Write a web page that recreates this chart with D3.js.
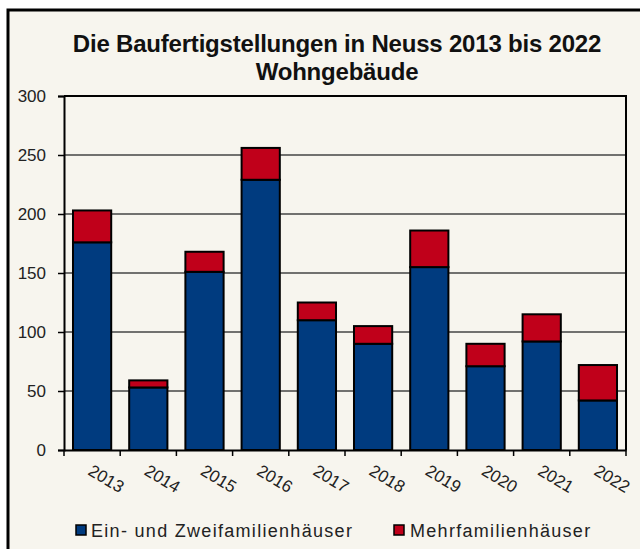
<!DOCTYPE html>
<html><head><meta charset="utf-8">
<script src="https://cdn.jsdelivr.net/npm/d3@7"></script>
<style>
html,body{margin:0;padding:0;background:#fff;}
svg{display:block;}
text{font-family:"Liberation Sans",Arial,sans-serif;}
</style></head>
<body>
<svg id="c" width="640" height="549"></svg>
<script>
const years = ["2013","2014","2015","2016","2017","2018","2019","2020","2021","2022"];
const einZwei = [176, 53, 151, 229, 110, 90, 155, 71, 92, 42];
const mehr = [27, 6, 17, 27, 15, 15, 31, 19, 23, 30];
const yTicks = [0, 50, 100, 150, 200, 250, 300];
const seriesNames = ["Ein- und Zweifamilienhäuser", "Mehrfamilienhäuser"];
const colors = ["#003B7F", "#C0001A"];

(function () {
const svg = d3.select("#c");
// frame
svg.append("rect").attr("x", 8).attr("y", 10).attr("width", 700).attr("height", 600)
  .attr("fill", "#F7F5EE").attr("stroke", "#000").attr("stroke-width", 3);

// title
const title = svg.append("text").attr("text-anchor", "middle").attr("font-weight", "bold")
  .attr("font-size", 24).attr("letter-spacing", -0.2).attr("fill", "#111");
title.append("tspan").attr("x", 337).attr("y", 52).text("Die Baufertigstellungen in Neuss 2013 bis 2022");
title.append("tspan").attr("x", 337).attr("y", 80).text("Wohngebäude");

const pL = 64, pR = 626, pT = 96, pB = 450;
const x = d3.scaleBand().domain(years).range([pL, pR]).paddingInner(0.32).paddingOuter(0.16);
const y = d3.scaleLinear().domain([0, 300]).range([pB, pT]);

// gridlines
svg.append("g").selectAll("line").data(yTicks.filter(t => t > 0 && t < 300)).join("line")
  .attr("x1", pL).attr("x2", pR).attr("y1", d => y(d)).attr("y2", d => y(d))
  .attr("stroke", "#444").attr("stroke-width", 1.5);

// stacked data
const data = years.map((yr, i) => ({year: yr, a: einZwei[i], b: mehr[i]}));
const stack = d3.stack().keys(["a", "b"])(data);
stack.forEach((layer, li) => {
  svg.append("g").selectAll("rect").data(layer).join("rect")
    .attr("x", d => x(d.data.year))
    .attr("width", x.bandwidth())
    .attr("y", d => y(d[1]))
    .attr("height", d => y(d[0]) - y(d[1]))
    .attr("fill", colors[li]).attr("stroke", "#000").attr("stroke-width", 2);
});

// plot border (top & right)
svg.append("path").attr("d", `M${pL},${pT}H${pR}V${pB}`)
  .attr("fill", "none").attr("stroke", "#000").attr("stroke-width", 2);

// y axis
const yAxis = svg.append("g").attr("transform", `translate(${pL},0)`)
  .call(d3.axisLeft(y).tickValues(yTicks).tickSize(6).tickPadding(12));
yAxis.select(".domain").attr("stroke", "#000").attr("stroke-width", 2);
yAxis.selectAll(".tick line").attr("stroke", "#000").attr("stroke-width", 1.5);
yAxis.selectAll("text").attr("font-size", 17).attr("fill", "#222")
  .attr("font-family", "Liberation Sans, Arial, sans-serif");

// x axis
const xAxis = svg.append("g").attr("transform", `translate(0,${pB})`)
  .call(d3.axisBottom(x).tickSize(0).tickFormat(""));
xAxis.select(".domain").attr("stroke", "#000").attr("stroke-width", 2);
const bounds = d3.range(years.length + 1).map(i => pL + (pR - pL) * i / years.length);
svg.append("g").selectAll("line").data(bounds).join("line")
  .attr("x1", d => d).attr("x2", d => d).attr("y1", pB).attr("y2", pB + 6)
  .attr("stroke", "#000").attr("stroke-width", 1.5);
svg.append("g").selectAll("text").data(years).join("text")
  .attr("transform", d => `translate(${x(d) + x.bandwidth() / 2 - 5},${pB + 24}) rotate(31)`)
  .attr("font-size", 17).attr("fill", "#222").text(d => d);

// legend
const leg = [{x: 76, tx: 91}, {x: 394, tx: 410}];
seriesNames.forEach((n, i) => {
  svg.append("rect").attr("x", leg[i].x).attr("y", 525).attr("width", 10).attr("height", 10)
    .attr("fill", colors[i]).attr("stroke", "#000").attr("stroke-width", 1.5);
  svg.append("text").attr("x", leg[i].tx).attr("y", 537).attr("font-size", 18)
    .attr("letter-spacing", 1.3).attr("fill", "#222").text(n);
});
})();
</script>
</body></html>
